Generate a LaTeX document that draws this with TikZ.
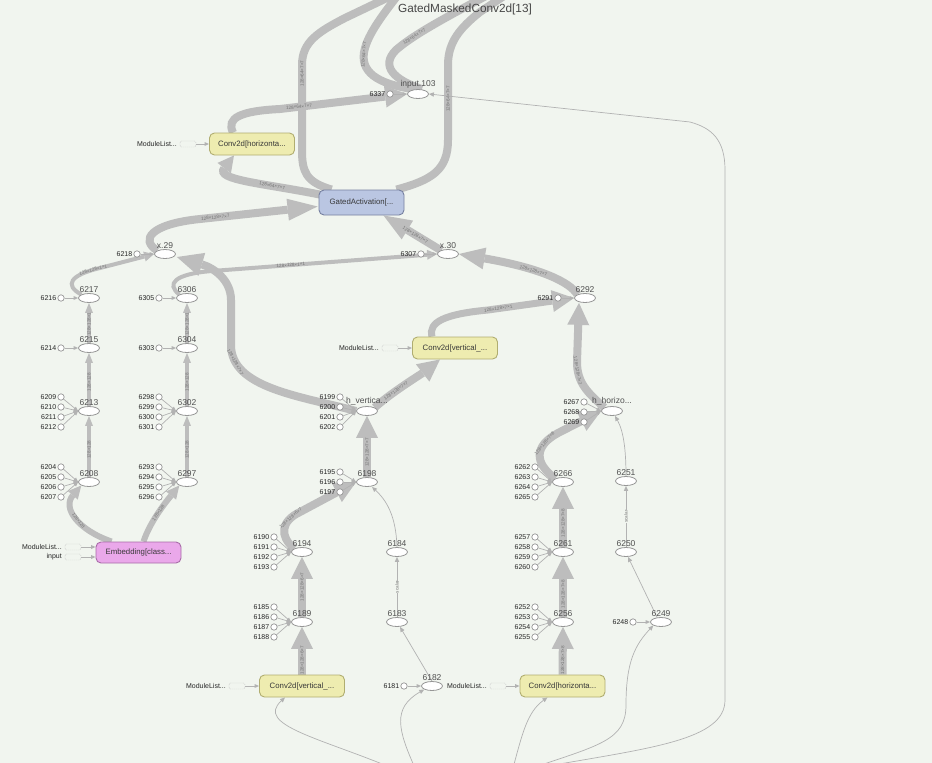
\documentclass[tikz,border=0pt]{standalone}
\usepackage{fontspec}
\setmainfont{Liberation Sans}
\usetikzlibrary{arrows.meta,shapes.geometric,calc}
\pgfdeclarelayer{back}
\pgfdeclarelayer{edgelayer}
\pgfsetlayers{back,edgelayer,main}
\definecolor{bg}{RGB}{241,245,239}
\definecolor{eg}{RGB}{189,189,189}
\definecolor{tg}{RGB}{178,178,178}
\definecolor{convfill}{RGB}{238,236,176}
\definecolor{convdraw}{RGB}{176,173,112}
\definecolor{gafill}{RGB}{186,198,226}
\definecolor{gadraw}{RGB}{118,128,160}
\definecolor{embfill}{RGB}{234,168,234}
\definecolor{embdraw}{RGB}{168,108,168}
\definecolor{ellb}{RGB}{150,150,150}
\definecolor{labc}{RGB}{80,80,80}
\tikzset{
 op/.style={ellipse,draw=ellb,fill=white,line width=0.8pt,minimum width=21pt,minimum height=9pt,inner sep=0pt},
 nl/.style={font=\fontsize{8.5}{9}\selectfont,text=labc,inner sep=0.6pt},
 cst/.style={circle,draw=ellb,fill=white,line width=0.7pt,minimum size=6.4pt,inner sep=0pt},
 cl/.style={font=\fontsize{7}{8}\selectfont,text=black!85,inner sep=1pt},
 boxbase/.style={rounded corners=5pt,line width=0.9pt,minimum width=85pt,minimum height=22pt,inner sep=0pt,font=\fontsize{7.8}{9}\selectfont,text=black!78},
 conv/.style={boxbase,draw=convdraw,fill=convfill},
 gact/.style={boxbase,draw=gadraw,fill=gafill,minimum height=25pt},
 embd/.style={boxbase,draw=embdraw,fill=embfill,minimum height=21pt},
 mlt/.style={font=\fontsize{7}{8}\selectfont,text=black!85,inner sep=0pt},
 dbx/.style={draw=black!22,dash pattern=on 1.2pt off 0.8pt,rounded corners=1.5pt,minimum width=16pt,minimum height=6pt,inner sep=0pt},
 thk/.style={draw=eg,line width=8pt,-{Triangle[length=22pt,width=22pt,line width=0pt]}},
 thkn/.style={draw=eg,line width=8pt},
 mdm/.style={draw=eg,line width=4pt,-{Triangle[length=10pt,width=10pt,line width=0pt]}},
 embe/.style={draw=eg,line width=6pt,-{Triangle[length=13pt,width=13pt,line width=0pt]}},
 col/.style={draw=eg,line width=3.5pt,-{Triangle[length=10pt,width=8pt,line width=0pt]}},
 thn/.style={draw=tg,line width=0.7pt,-{Triangle[length=5pt,width=4.5pt,line width=0pt]}},
 sarr/.style={draw=tg,line width=0.7pt,-{Triangle[length=4.5pt,width=4pt,line width=0pt]}},
 el/.style={font=\fontsize{4.6}{5}\selectfont,text=black!55,sloped,inner sep=0pt},
}
\begin{document}
\begin{tikzpicture}[x=1pt,y=-1pt]
\useasboundingbox (0,0) rectangle (932,763);
\begin{pgfonlayer}{back}
\fill[bg] (0,0) rectangle (932,763);
\end{pgfonlayer}
\clip (0,0) rectangle (932,763);

% ---------------- nodes ----------------
\node[font=\fontsize{11.8}{13}\selectfont,text=black!72] (ttl) at (465,9) {GatedMaskedConv2d[13]};

\node[op,label={[nl]above:input.103}] (inp) at (418,94) {};
\node[cst,label={[cl]left:6337}] (c6337) at (390,94) {};

\node[conv] (hcT) at (252,144) {Conv2d[horizonta...};
\node[dbx] (dA) at (188,144) {};
\node[mlt,anchor=east] (mA) at (177,144) {ModuleList...};

\node[gact] (ga) at (361.5,202.5) {GatedActivation[...};

\node[op,label={[nl]above:x.29}] (x29) at (165,254) {};
\node[cst,label={[cl]left:6218}] (c6218) at (137,254) {};
\node[op,label={[nl]above:x.30}] (x30) at (448,254) {};
\node[cst,label={[cl]left:6307}] (c6307) at (421,254) {};

\node[op,label={[nl]above:6217}] (n6217) at (89,298) {};
\node[cst,label={[cl]left:6216}] (c6216) at (61,298) {};
\node[op,label={[nl]above:6306}] (n6306) at (187,298) {};
\node[cst,label={[cl]left:6305}] (c6305) at (159,298) {};
\node[op,label={[nl]above:6292}] (n6292) at (585,298) {};
\node[cst,label={[cl]left:6291}] (c6291) at (558,298) {};

\node[op,label={[nl]above:6215}] (n6215) at (89,348) {};
\node[cst,label={[cl]left:6214}] (c6214) at (61,348) {};
\node[op,label={[nl]above:6304}] (n6304) at (187,348) {};
\node[cst,label={[cl]left:6303}] (c6303) at (159,348) {};

\node[conv] (cvM) at (455,348) {Conv2d[vertical\_...};
\node[dbx] (dB) at (390,348) {};
\node[mlt,anchor=east] (mB) at (379,348) {ModuleList...};

\node[op,label={[nl]above:6213}] (n6213) at (89,411) {};
\foreach \k/\yy in {6209/397,6210/407,6211/417,6212/427}
  {\node[cst,label={[cl]left:\k}] (c\k) at (61,\yy) {};}
\node[op,label={[nl]above:6302}] (n6302) at (187,411) {};
\foreach \k/\yy in {6298/397,6299/407,6300/417,6301/427}
  {\node[cst,label={[cl]left:\k}] (c\k) at (159,\yy) {};}
\node[op,label={[nl]above:h\_vertica...}] (hv) at (367,411) {};
\foreach \k/\yy in {6199/397,6200/407,6201/417,6202/427}
  {\node[cst,label={[cl]left:\k}] (c\k) at (340,\yy) {};}
\node[op,label={[nl]above:h\_horizo...}] (hh) at (612,411) {};
\foreach \k/\yy in {6267/402,6268/412,6269/422}
  {\node[cst,label={[cl]left:\k}] (c\k) at (584,\yy) {};}

\node[op,label={[nl]above:6208}] (n6208) at (89,482) {};
\foreach \k/\yy in {6204/467,6205/477,6206/487,6207/497}
  {\node[cst,label={[cl]left:\k}] (c\k) at (61,\yy) {};}
\node[op,label={[nl]above:6297}] (n6297) at (187,482) {};
\foreach \k/\yy in {6293/467,6294/477,6295/487,6296/497}
  {\node[cst,label={[cl]left:\k}] (c\k) at (159,\yy) {};}
\node[op,label={[nl]above:6198}] (n6198) at (367,482) {};
\foreach \k/\yy in {6195/472,6196/482,6197/492}
  {\node[cst,label={[cl]left:\k}] (c\k) at (340,\yy) {};}
\node[op,label={[nl]above:6266}] (n6266) at (563,482) {};
\foreach \k/\yy in {6262/467,6263/477,6264/487,6265/497}
  {\node[cst,label={[cl]left:\k}] (c\k) at (535,\yy) {};}
\node[op,label={[nl]above:6251}] (n6251) at (626,481) {};

\node[embd] (emb) at (138.5,552.5) {Embedding[class...};
\node[dbx] (dC) at (73,547) {};
\node[mlt,anchor=east] (mC) at (62,547) {ModuleList...};
\node[dbx] (dD) at (73,557) {};
\node[mlt,anchor=east] (mD) at (62,557) {input};

\node[op,label={[nl]above:6194}] (n6194) at (302,552) {};
\foreach \k/\yy in {6190/537,6191/547,6192/557,6193/567}
  {\node[cst,label={[cl]left:\k}] (c\k) at (274,\yy) {};}
\node[op,label={[nl]above:6184}] (n6184) at (397,552) {};
\node[op,label={[nl]above:6261}] (n6261) at (563,552) {};
\foreach \k/\yy in {6257/537,6258/547,6259/557,6260/567}
  {\node[cst,label={[cl]left:\k}] (c\k) at (535,\yy) {};}
\node[op,label={[nl]above:6250}] (n6250) at (626,552) {};

\node[op,label={[nl]above:6189}] (n6189) at (302,622) {};
\foreach \k/\yy in {6185/607,6186/617,6187/627,6188/637}
  {\node[cst,label={[cl]left:\k}] (c\k) at (274,\yy) {};}
\node[op,label={[nl]above:6183}] (n6183) at (397,622) {};
\node[op,label={[nl]above:6256}] (n6256) at (563,622) {};
\foreach \k/\yy in {6252/607,6253/617,6254/627,6255/637}
  {\node[cst,label={[cl]left:\k}] (c\k) at (535,\yy) {};}
\node[op,label={[nl]above:6249}] (n6249) at (661,622) {};
\node[cst,label={[cl]left:6248}] (c6248) at (633,622) {};

\node[conv] (cvB) at (302,686) {Conv2d[vertical\_...};
\node[dbx] (dE) at (237,686) {};
\node[mlt,anchor=east] (mE) at (226,686) {ModuleList...};
\node[op,label={[nl]above:6182}] (n6182) at (432,686) {};
\node[cst,label={[cl]left:6181}] (c6181) at (404,686) {};
\node[dbx] (dF) at (498,686) {};
\node[mlt,anchor=east] (mF) at (487,686) {ModuleList...};
\node[conv] (chB) at (562.5,686) {Conv2d[horizonta...};

% free ends outside the frame
\coordinate (t1) at (412,-14);
\coordinate (t2) at (522,-16);
\coordinate (t3) at (405,-14);
\coordinate (t4) at (505,-14);
\coordinate (b1) at (392,768);
\coordinate (b2) at (415,768);
\coordinate (b3) at (513,768);
\coordinate (b4) at (532,768);
\coordinate (b5) at (548,766);

% ---------------- edges ----------------
\begin{pgfonlayer}{edgelayer}
% outgoing at the top
\draw[thkn] ($(ga.north west)+(13,0)$) .. controls (306,182) and (302,172) .. (302,150) -- node[el,pos=0.9]{128×64×7×7} (302,65) .. controls (302,42) and (318,32) .. (345,18) -- (t1);
\draw[thkn] ($(ga.north east)+(-8,0)$) .. controls (432,180) and (448,170) .. (448,140) -- node[el,pos=0.55]{128×64×7×7} (448,65) .. controls (448,42) and (460,28) .. (480,12) -- (t2);
\draw[thkn] ($(inp.north)+(-5,0)$) .. controls (378,84) and (358,72) .. (365,48) node[el,pos=0.9]{128×64×7×7} .. controls (370,30) and (388,8) .. (t3);
\draw[thkn] ($(inp.north)+(4,0)$) .. controls (394,80) and (380,66) .. (396,50) .. controls (412,36) and (440,20) .. (t4) node[el,pos=0.3]{128×64×7×7};
% into input.103 and around the top block
\draw[thk] ($(hcT.north)+(-19,0)$) .. controls (226,118) and (240,111) .. (280,109) -- node[el,pos=0.15]{128×64×7×7} (inp.west);
\draw[thk,-{Triangle[length=16pt,width=17pt,line width=0pt]}] ($(ga.west)+(1,-8)$) .. controls (262,183) and (215,180) .. ($(hcT.south)+(-18,0)$) node[el,pos=0.3]{128×64×7×7};
\draw[thk,-{Triangle[length=30pt,width=22pt,line width=0pt]}] (x29.north west) .. controls (140,240) and (150,224) .. (200,219) -- node[el,pos=0.13]{128×128×7×7} ($(ga.west)+(-1,4)$);
\draw[thk,-{Triangle[length=28pt,width=22pt,line width=0pt]}] ($(x30.north west)+(1,0)$) -- node[el,pos=0.45]{128×128×7×7} ($(ga.south east)+(-21,0)$);
\draw[thk,-{Triangle[length=26pt,width=22pt,line width=0pt]}] (n6292.north west) .. controls (570,282) and (540,268) .. (x30.east) node[el,pos=0.6]{128×128×7×7};
\draw[mdm] (n6306.north west) .. controls (166,284) and (174,274) .. (212,271) -- node[el,pos=0.35]{128×128×1×1} (x30.west);
\draw[mdm] (n6217.north west) .. controls (64,285) and (70,275) .. (100,268) node[el,pos=0.92]{128×128×1×1} -- (x29.west);
\draw[thk,-{Triangle[length=26pt,width=24pt,line width=0pt]}] (hv.west) .. controls (300,396) and (231,388) .. (231,345) node[el,pos=0.85]{128×128×7×7} -- (231,300) .. controls (231,280) and (214,268) .. ($(x29.east)+(1,3)$);
\draw[thk] (hv.north east) .. controls (392,392) and (420,375) .. ($(cvM.south)+(-15,0)$) node[el,pos=0.35]{128×128×7×7};
\draw[thk,line width=7pt] ($(cvM.north)+(-23,0)$) .. controls (428,322) and (445,314) .. (488,310) -- node[el,pos=0.12]{128×128×7×1} (n6292.west);
\draw[thk] (hh.north west) .. controls (588,393) and (577,383) .. (577,362) node[el,pos=0.85]{128×128×7×7} -- ($(n6292.south)+(-6,0)$);
\draw[thk] (n6266.north west) .. controls (534,463) and (534,446) .. (558,433) node[el,pos=0.75]{128×128×7×8} -- (hh.west);
\draw[thn] (n6251.north) .. controls (626,452) and (624,432) .. ($(hh.south)+(3,0)$);
% right column
\draw[thk] (chB.north) -- node[el,pos=0.3]{128×128×7×8} (n6256.south);
\draw[thk] (n6256.north) -- node[el,pos=0.38]{128×128×7×8} (n6261.south);
\draw[thk] (n6261.north) -- node[el,pos=0.4]{128×128×7×8} (n6266.south);
\draw[thn] (n6250.north) -- node[el,fill=bg,inner sep=0.3pt]{scalar} (n6251.south);
\draw[thn] ($(n6249.north)+(-4,0)$) -- ($(n6250.south)+(2,0)$);
% middle column
\draw[thk] (n6198.north) -- node[el,pos=0.4]{128×128×7×7} (hv.south);
\draw[thk] (n6194.north west) .. controls (279,536) and (281,521) .. (300,512) node[el,pos=0.8]{128×128×6×7} -- (n6198.west);
\draw[thn] (n6184.north) .. controls (396,515) and (386,500) .. ($(n6198.south)+(5,0)$);
\draw[thk] (cvB.north) -- node[el,pos=0.3]{128×128×6×7} (n6189.south);
\draw[thk] (n6189.north) -- node[el,pos=0.5]{128×128×6×7} (n6194.south);
\draw[thn] (n6183.north) -- node[el,fill=bg,inner sep=0.3pt]{scalar} (n6184.south);
\draw[thn] (n6182.north) -- ($(n6183.south)+(3,0)$);
% left columns
\draw[embe] ($(emb.north west)+(16,0)$) .. controls (78,530) and (62,508) .. (n6208.south west) node[el,pos=0.45]{128×128};
\draw[embe] ($(emb.north)+(5,0)$) .. controls (150,522) and (165,503) .. (n6297.south west) node[el,pos=0.5]{128×128};
\draw[col] (n6208.north) -- node[el,pos=0.45]{128×128} (n6213.south);
\draw[col] (n6213.north) -- node[el,pos=0.45]{128×128} (n6215.south);
\draw[col] (n6215.north) -- node[el,pos=0.47]{128×128×1} (n6217.south);
\draw[col] (n6297.north) -- node[el,pos=0.45]{128×128} (n6302.south);
\draw[col] (n6302.north) -- node[el,pos=0.45]{128×128} (n6304.south);
\draw[col] (n6304.north) -- node[el,pos=0.47]{128×128×1} (n6306.south);
% constants
\foreach \a/\b in {c6337/inp,c6218/x29,c6307/x30,c6216/n6217,c6305/n6306,c6291/n6292,c6214/n6215,c6303/n6304,c6248/n6249,c6181/n6182}
  {\draw[sarr] (\a) -- (\b);}
\foreach \k in {6209,6210,6211,6212} {\draw[sarr] (c\k) -- (n6213.west);}
\foreach \k in {6298,6299,6300,6301} {\draw[sarr] (c\k) -- (n6302.west);}
\foreach \k in {6199,6200,6201,6202} {\draw[sarr] (c\k) -- (hv.west);}
\foreach \k in {6267,6268,6269} {\draw[sarr] (c\k) -- (hh.west);}
\foreach \k in {6204,6205,6206,6207} {\draw[sarr] (c\k) -- (n6208.west);}
\foreach \k in {6293,6294,6295,6296} {\draw[sarr] (c\k) -- (n6297.west);}
\foreach \k in {6195,6196,6197} {\draw[sarr] (c\k) -- (n6198.west);}
\foreach \k in {6262,6263,6264,6265} {\draw[sarr] (c\k) -- (n6266.west);}
\foreach \k in {6190,6191,6192,6193} {\draw[sarr] (c\k) -- (n6194.west);}
\foreach \k in {6257,6258,6259,6260} {\draw[sarr] (c\k) -- (n6261.west);}
\foreach \k in {6185,6186,6187,6188} {\draw[sarr] (c\k) -- (n6189.west);}
\foreach \k in {6252,6253,6254,6255} {\draw[sarr] (c\k) -- (n6256.west);}
% module lists
\draw[sarr] (dA) -- (hcT);
\draw[sarr] (dB) -- (cvM);
\draw[sarr] (dC) -- ($(emb.west)+(0,-5.5)$);
\draw[sarr] (dD) -- ($(emb.west)+(0,4.5)$);
\draw[sarr] (dE) -- (cvB);
\draw[sarr] (dF) -- (chB);
% incoming from below
\draw[thn] (b1) .. controls (320,738) and (255,725) .. ($(cvB.south)+(-17,0)$);
\draw[thn] (b2) .. controls (398,730) and (392,708) .. (n6182.south west);
\draw[thn] (b3) .. controls (522,735) and (527,712) .. ($(chB.south)+(-15,0)$);
\draw[thn] (b4) .. controls (600,745) and (626,740) .. (626,705) .. controls (626,662) and (635,645) .. (n6249.south west);
\draw[thn] (b5) .. controls (650,748) and (725,740) .. (725,700) -- (725,170) .. controls (725,140) and (712,128) .. (690,122) -- (inp.east);
\end{pgfonlayer}
\end{tikzpicture}
\end{document}
